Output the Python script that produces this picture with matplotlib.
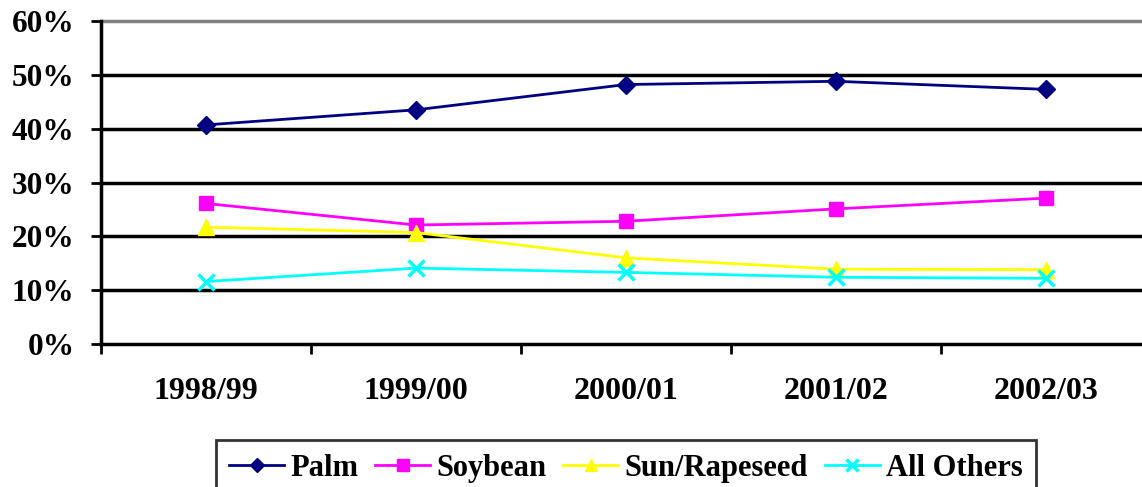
import matplotlib
matplotlib.use('Agg')
import matplotlib.pyplot as plt
import numpy as np

seasons = ['1998/99', '1999/00', '2000/01', '2001/02', '2002/03']
palm = [40.7, 43.5, 48.2, 48.8, 47.3]
soybean = [26.1, 22.1, 22.8, 25.1, 27.1]
sun_rapeseed = [21.7, 20.7, 16.0, 13.9, 13.8]
all_others = [11.6, 14.1, 13.3, 12.4, 12.2]

plt.rcParams['font.family'] = 'Liberation Serif'
plt.rcParams['font.weight'] = 'bold'

fig = plt.figure(figsize=(11.42, 4.87), dpi=100)
ax = fig.add_axes([101/1142, 1-344/487, 1050/1142, 323/487])

x = np.arange(len(seasons))
ax.plot(x, palm, color='#000080', marker='D', ms=9, lw=2, label='Palm')
ax.plot(x, soybean, color='#FF00FF', marker='s', ms=10, lw=2, label='Soybean')
ax.plot(x, sun_rapeseed, color='#FFFF00', marker='^', ms=11, lw=2, label='Sun/Rapeseed')
ax.plot(x, all_others, color='#00FFFF', marker='x', ms=11, mew=2.5, lw=2, label='All Others')

ax.set_xlim(-0.5, 4.5)
ax.set_ylim(0, 60)
ax.set_yticks(range(0, 61, 10))
ax.set_yticklabels([f'{v}%' for v in range(0, 61, 10)], fontsize=22.5, fontweight='bold')
for v in range(10, 60, 10):
    ax.axhline(v, color='black', lw=2.5, zorder=0)
ax.axhline(60, color='#808080', lw=2.5, zorder=0, clip_on=False)

ax.set_xticks(np.arange(-0.5, 5, 1))
ax.set_xticklabels([])
ax.set_xticks(x, minor=True)
ax.set_xticklabels(seasons, minor=True, fontsize=23, fontweight='bold')
ax.tick_params(axis='x', which='major', direction='out', length=7, width=2)
ax.tick_params(axis='x', which='minor', length=0, pad=24)
ax.tick_params(axis='y', direction='out', length=7, width=2, pad=12)

for s in ['top', 'right']:
    ax.spines[s].set_visible(False)
ax.spines['left'].set_linewidth(2.5)
ax.spines['bottom'].set_linewidth(2.5)

leg = fig.legend(loc='upper center', bbox_to_anchor=(626/1142, 1-440/487), ncol=4,
                 prop={'family': 'Liberation Serif', 'weight': 'bold', 'size': 22},
                 frameon=True, fancybox=False, edgecolor='black', handlelength=1.8,
                 columnspacing=0.55, handletextpad=0.2, borderpad=0.45, borderaxespad=0,
                 markerscale=0.8)
leg.get_frame().set_linewidth(2)

fig.savefig('out.png', dpi=100)
